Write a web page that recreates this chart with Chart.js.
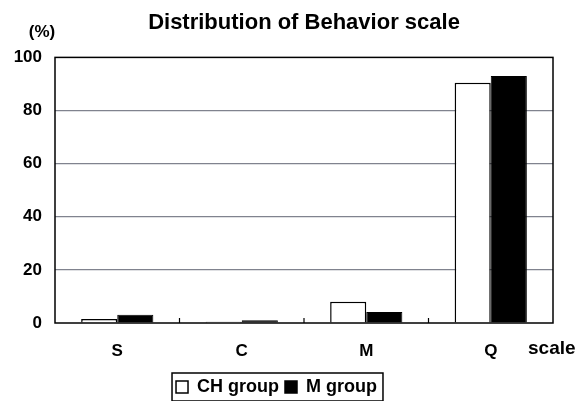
<!DOCTYPE html>
<html>
<head>
<meta charset="utf-8">
<script src="https://cdn.jsdelivr.net/npm/chart.js@4/dist/chart.umd.min.js"></script>
<style>
    html, body { margin: 0; padding: 0; background: #fff; }
    #wrap { width: 582px; height: 401px; position: relative; }
</style>
</head>
<body>
<div id="wrap"><canvas id="behaviorChart"></canvas></div>
<script>
// values
const categories = ['S', 'C', 'M', 'Q'];
const chGroup = [1.5, 0.5, 8.0, 90.5];
const mGroup = [3.1, 1.0, 4.1, 93.0];
const yTicks = [0, 20, 40, 60, 80, 100];

const FONT = 'Arial, "Liberation Sans", sans-serif';

// frame, category separators, axis captions and legend border
const decorPlugin = {
    id: 'decor',
    afterDraw(chart) {
        const ctx = chart.ctx;
        const area = chart.chartArea;
        const x = chart.scales.x;
        ctx.save();
        ctx.strokeStyle = '#000';
        ctx.lineWidth = 1.5;
        ctx.strokeRect(area.left, area.top, area.right - area.left, area.bottom - area.top);

        // small tick marks between categories
        ctx.lineWidth = 1.2;
        for (let i = 0; i < categories.length - 1; i++) {
            const px = (x.getPixelForValue(i) + x.getPixelForValue(i + 1)) / 2;
            ctx.beginPath();
            ctx.moveTo(px, area.bottom);
            ctx.lineTo(px, area.bottom - 5);
            ctx.stroke();
        }

        ctx.fillStyle = '#000';
        ctx.font = 'bold 17px ' + FONT;
        ctx.textAlign = 'center';
        ctx.textBaseline = 'middle';
        ctx.fillText('(%)', area.left - 13, area.top - 25);

        ctx.textAlign = 'left';
        ctx.textBaseline = 'alphabetic';
        ctx.font = 'bold 19px ' + FONT;
        ctx.fillText('scale', area.right - 25, area.bottom + 31);

        // box round the legend
        const lg = chart.legend;
        if (lg && lg.legendHitBoxes.length) {
            const boxes = lg.legendHitBoxes;
            const l = Math.min(...boxes.map(b => b.left)) - 4;
            const r = Math.max(...boxes.map(b => b.left + b.width)) + 6;
            const t = Math.min(...boxes.map(b => b.top)) - 5;
            const bt = Math.max(...boxes.map(b => b.top + b.height)) + 5;
            ctx.lineWidth = 1.5;
            ctx.strokeRect(l, t, r - l, bt - t);
        }
        ctx.restore();
    }
};

new Chart(document.getElementById('behaviorChart'), {
    type: 'bar',
    data: {
        labels: categories,
        datasets: [{
            label: 'CH group',
            data: chGroup,
            backgroundColor: '#ffffff',
            borderColor: '#000000',
            borderWidth: 1.5,
            categoryPercentage: 0.58,
            barPercentage: 1.0
        }, {
            label: 'M group',
            data: mGroup,
            backgroundColor: '#000000',
            borderColor: '#000000',
            borderWidth: 1,
            categoryPercentage: 0.58,
            barPercentage: 1.0
        }]
    },
    options: {
        responsive: true,
        maintainAspectRatio: false,
        animation: false,
        layout: { padding: { left: 0, right: 29, top: 0, bottom: -5 } },
        scales: {
            x: {
                grid: { display: false },
                border: { display: false },
                ticks: {
                    color: '#000',
                    padding: 10,
                    font: { family: FONT, size: 17, weight: 'bold' }
                },
                afterFit(scale) { scale.height = 49; }
            },
            y: {
                min: 0,
                max: 100,
                afterBuildTicks(scale) {
                    scale.ticks = yTicks.map(v => ({ value: v }));
                },
                grid: {
                    drawTicks: false,
                    color: (c) => (c.tick && (c.tick.value === 0 || c.tick.value === 100)) ? 'rgba(0,0,0,0)' : '#80838e',
                    lineWidth: 1.2
                },
                border: { display: false },
                ticks: {
                    color: '#000',
                    padding: 13,
                    font: { family: FONT, size: 17, weight: 'bold' }
                },
                afterFit(scale) { scale.width = 55; }
            }
        },
        plugins: {
            title: {
                display: true,
                text: 'Distribution of Behavior scale',
                fullSize: false,
                color: '#000',
                font: { family: FONT, size: 22, weight: 'bold' },
                padding: { top: 10, bottom: 21 }
            },
            legend: {
                position: 'bottom',
                labels: {
                    color: '#000',
                    boxWidth: 12,
                    boxHeight: 12,
                    padding: 6,
                    font: { family: FONT, size: 18, weight: 'bold' },
                    generateLabels(chart) {
                        return chart.data.datasets.map((ds, i) => ({
                            text: ds.label,
                            fillStyle: ds.backgroundColor,
                            strokeStyle: '#000',
                            lineWidth: 1.5,
                            fontColor: '#000',
                            datasetIndex: i
                        }));
                    }
                }
            },
            tooltip: { enabled: false }
        }
    },
    plugins: [decorPlugin]
});
</script>
</body>
</html>
